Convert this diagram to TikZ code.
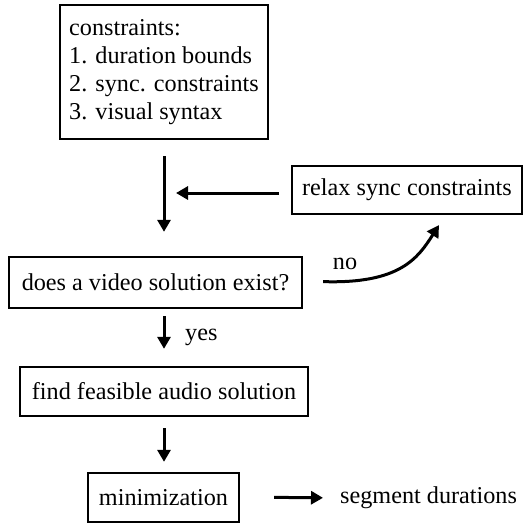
\documentclass[tikz,border=0pt]{standalone}
\usepackage{fontspec}
\setmainfont{Liberation Serif}
\usetikzlibrary{arrows.meta,calc}
\begin{document}
\begin{tikzpicture}[x=1pt,y=-1pt,
  font=\fontsize{24.2}{28}\selectfont,
  box/.style={draw,line width=2.4pt,rectangle,inner sep=0pt,align=center},
  conn/.style={line width=3pt,-{Triangle[length=12pt,width=13pt]}},
  lbl/.style={inner sep=0pt}]
\useasboundingbox (0,0) rectangle (526,523);
\node[box,minimum width=208,minimum height=134,align=left] (cons) at (164,72)
  {constraints:\\1. duration bounds\\2. sync. constraints\\3. visual syntax};
\node[box,minimum width=230,minimum height=48] (relax) at (407,190) {relax sync constraints};
\node[box,minimum width=293,minimum height=51] (video) at (155.5,282.5) {does a video solution exist?};
\node[box,minimum width=288,minimum height=49] (feas) at (164,391.5) {find feasible audio solution};
\node[box,minimum width=151,minimum height=49] (mini) at (163.5,497.5) {minimization};
\node[lbl,anchor=west] (seg) at (340,498) {segment durations};
\node[lbl] (no) at (345,264) {no};
\node[lbl,anchor=west] (yes) at (185,337) {yes};
\coordinate (noend) at (439,225);
\draw[conn,shorten <=16pt,shorten >=24pt] (cons.south) -- (cons.south |- video.north);
\draw[conn,shorten <=12pt,shorten >=12pt] ([yshift=-3pt]relax.west) -- ([yshift=-3pt]relax.west -| cons.south);
\draw[conn,shorten <=20pt] ([yshift=1.5pt]video.east) .. controls (400,284) and (418,258) .. (noend);
\draw[conn,shorten <=7pt,shorten >=17pt] (video.south -| cons.south) -- (feas.north);
\draw[conn,shorten <=11pt,shorten >=10pt] (feas.south) -- (feas.south |- mini.north);
\draw[conn,shorten <=34pt,shorten >=17pt] ([yshift=0.5pt]mini.east) -- (seg.west);
\end{tikzpicture}
\end{document}
